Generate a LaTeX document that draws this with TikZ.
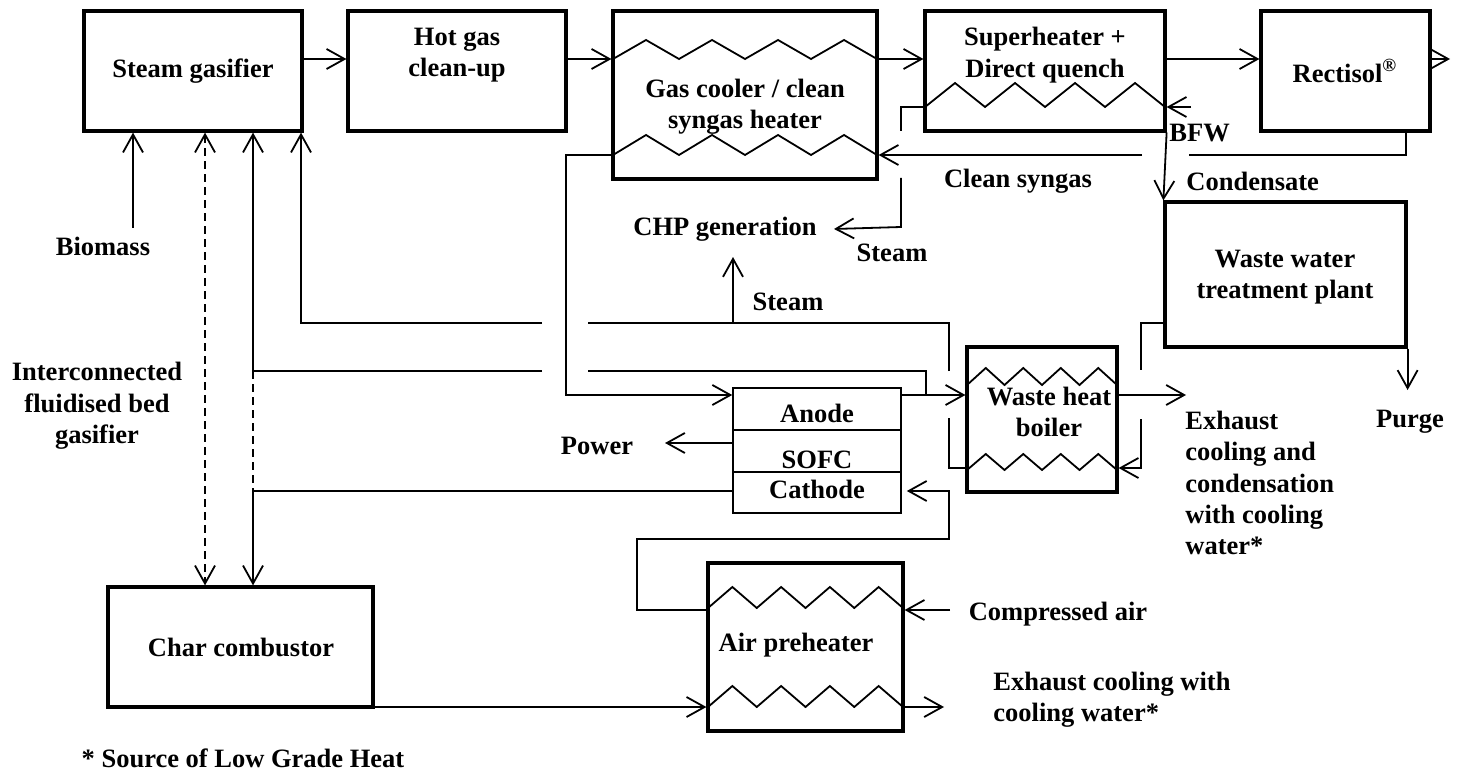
\documentclass[tikz,border=0pt]{standalone}
\usepackage{fontspec}
\setmainfont{Liberation Serif}
\usetikzlibrary{arrows.meta,calc}
\newcommand\hxcoil[4]{\draw[coil] (#1,#3) \foreach \i in {1,...,8}{ -- ({#1+\i*(#2-#1)/8},{#3+(#4-#3)*mod(\i,2)}) };}
\tikzset{
  box/.style={draw, line width=1.6pt, inner sep=0pt},
  cell/.style={draw, line width=0.8pt, inner sep=0pt},
  lbl/.style={inner sep=0pt, font=\fontsize{13.25}{15.7}\selectfont\bfseries, align=center},
  ln/.style={line width=0.9pt},
  tip/.tip={Straight Barb[length=9pt,width=10pt,line width=0.9pt]},
  arr/.style={ln, -tip},
  dsh/.style={ln, dash pattern=on 4pt off 2.5pt},
  coil/.style={line width=0.9pt, line join=miter},
}
\begin{document}
\begin{tikzpicture}[x=0.5pt,y=-0.5pt]
\useasboundingbox (0,0) rectangle (1460,775);
% ---- boxes
\node[box, minimum width=109pt, minimum height=60pt] (sg) at (193,71) {};
\node[box, minimum width=109pt, minimum height=60pt] (hg) at (457,71) {};
\node[box, minimum width=132pt, minimum height=84pt] (gc) at (745,95) {};
\node[box, minimum width=120pt, minimum height=60pt] (sh) at (1045,71) {};
\node[box, minimum width=84.5pt, minimum height=60pt] (rc) at (1345.5,71) {};
\node[box, minimum width=120.5pt, minimum height=72.5pt] (ww) at (1285.5,274.5) {};
\node[box, minimum width=75pt, minimum height=72.5pt] (wh) at (1042,419.5) {};
\node[cell, minimum width=84pt, minimum height=62.5pt] (sofc) at (817,450.5) {};
\node[box, minimum width=97.5pt, minimum height=84pt] (ap) at (805.5,647) {};
\node[box, minimum width=132.5pt, minimum height=60pt] (cc) at (240.5,647) {};
\draw[line width=0.8pt] (sofc.west|-0,430) -- (sofc.east|-0,430);
\draw[line width=0.8pt] (sofc.west|-0,472) -- (sofc.east|-0,472);
% ---- coils
\hxcoil{613}{877}{59}{40}
\hxcoil{613}{877}{155}{135}
\hxcoil{925}{1165}{107}{83}
\hxcoil{967}{1117}{385}{368}
\hxcoil{967}{1117}{470}{454}
\hxcoil{708}{903}{608}{587}
\hxcoil{708}{903}{707}{686}
% ---- box texts
\node[lbl] (tsg) at (193,71) {Steam gasifier};
\node[lbl] (thg) at (457,55) {Hot gas\\clean-up};
\node[lbl] (tgc) at (745,107) {Gas cooler / clean\\syngas heater};
\node[lbl] (tsh) at (1045,55) {Superheater +\\Direct quench};
\node[lbl] (trc) at (1345,71) {Rectisol\textsuperscript{®}};
\node[lbl] (tww) at (1285,277) {Waste water\\treatment plant};
\node[lbl] (twh) at (1049,412) {Waste heat\\boiler};
\node[lbl] (tan) at (817,413) {Anode};
\node[lbl] (tso) at (817,460) {SOFC};
\node[lbl] (tca) at (817,489) {Cathode};
\node[lbl] (tap) at (796,645) {Air preheater};
\node[lbl] (tcc) at (241,647) {Char combustor};
% ---- free labels
\node[lbl] (chp) at (725,229) {CHP generation};
\node[lbl] (st1) at (892,253) {Steam};
\node[lbl] (st2) at (788,302) {Steam};
\node[lbl] (csg) at (1018,181) {Clean syngas};
\node[lbl, anchor=west] (cond) at (1186,181) {Condensate};
\node[lbl, anchor=west] (bfwt) at (1169,133) {BFW};
\node[lbl] (bio) at (103,246) {Biomass};
\node[lbl] (ifb) at (97,406) {Interconnected\\fluidised bed\\gasifier};
\node[lbl] (pow) at (597,446) {Power};
\node[lbl, anchor=west, align=left] (exh1) at (1185,483) {Exhaust\\cooling and\\condensation\\with cooling\\water*};
\node[lbl, anchor=west, align=left] (exh2) at (993,700) {Exhaust cooling with\\cooling water*};
\node[lbl] (cair) at (1058,614) {Compressed air};
\node[lbl] (purg) at (1410,422) {Purge};
\node[lbl] (note) at (243,758) {* Source of Low Grade Heat};
% ---- free ends
\coordinate (prod) at (1450,59);
\coordinate (bfw) at (1191,107);
\coordinate (chpE) at ($(chp.east)+(17,0)$);
\coordinate (chpS) at (733,257);
\coordinate (exo) at (1186,395);
\coordinate (purge) at (ww.south east|-0,390);
\coordinate (powr) at (665,443);
\coordinate (cain) at (950,610);
\coordinate (apx) at (944,707);
\coordinate (biom) at (133,228);
% ---- main gas line
\draw[arr] (sg.east|-0,59) -- (hg.west|-0,59);
\draw[arr] (hg.east|-0,59) -- (gc.west|-0,59);
\draw[arr] (gc.east|-0,59) -- (sh.west|-0,59);
\draw[arr] (sh.east|-0,59) -- (rc.west|-0,59);
\draw[arr] (rc.east|-0,59) -- (prod);
% clean syngas back to gas cooler
\draw[ln] (rc.south-|1406,0) -- (1406,155) -- (1189,155);
\draw[arr] (1142,155) -- (gc.east|-0,155);
% BFW and condensate
\draw[arr] (bfw) -- (sh.east|-0,107);
\draw[arr] (sh.south east) -- (ww.north west);
% steam to CHP
\draw[ln] (sh.west|-0,107) -- (901,107) -- (901,131);
\draw[arr] (901,178) -- (901,227) -- (chpE);
% anode feed and off-gas
\draw[arr] (gc.west|-0,155) -- (566,155) -- (566,395) -- (sofc.west|-0,395);
\draw[arr] (sofc.east|-0,395) -- (wh.west|-0,395);
\draw[ln] (926,395) -- (926,371) -- (588,371);
\draw[arr] (542,371) -- (253,371) -- (sg.south-|253,0);
\draw[dsh] (253,371) -- (253,491);
% steam from waste heat boiler
\draw[ln] (wh.west|-0,468) -- (949,468) -- (949,418);
\draw[ln] (949,371) -- (949,323) -- (588,323);
\draw[arr] (542,323) -- (301,323) -- (sg.south-|301,0);
\draw[arr] (733,323) -- (chpS);
% waste water recirculation
\draw[ln] (ww.west|-0,323) -- (1141,323) -- (1141,370);
\draw[arr] (1141,419) -- (1141,468) -- (wh.east|-0,468);
\draw[arr] (wh.east|-0,395) -- (exo);
\draw[arr] (ww.south east) -- (purge);
% SOFC power and cathode
\draw[arr] (sofc.west|-0,443) -- (powr);
\draw[arr] (sofc.west|-0,491) -- (253,491) -- (cc.north-|253,0);
\draw[arr, shorten >=2.5pt] (ap.west|-0,610) -- (637,610) -- (637,539) -- (949,539) -- (949,491) -- (sofc.east|-0,491);
\draw[arr] (cain) -- (ap.east|-0,610);
\draw[arr] (ap.east|-0,707) -- (apx);
\draw[arr] (cc.east|-0,707) -- (ap.west|-0,707);
% gasifier inputs
\draw[dsh, tip-tip] (sg.south-|205,0) -- (cc.north-|205,0);
\draw[arr] (biom) -- (sg.south-|133,0);
\end{tikzpicture}
\end{document}
